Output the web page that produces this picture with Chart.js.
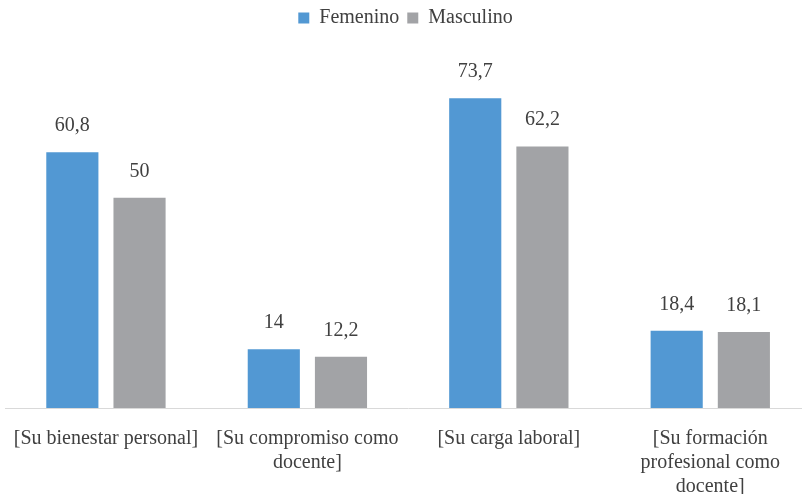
<!DOCTYPE html>
<html>
<head>
<meta charset="utf-8">
<script src="https://cdn.jsdelivr.net/npm/chart.js@4"></script>
<style>
  html, body { margin: 0; padding: 0; background: #fff; overflow: hidden; }
  #wrap { width: 802px; height: 494px; overflow: hidden; }
  #c { display: block; margin-left: -6px; }
</style>
</head>
<body>
<div id="wrap"><canvas id="c" width="817" height="518"></canvas></div>
<script>
const categories = [
  "[Su bienestar personal]",
  ["[Su compromiso como", "docente]"],
  "[Su carga laboral]",
  ["[Su formación", "profesional como", "docente]"]
];
const femenino = [60.8, 14, 73.7, 18.4];
const masculino = [50, 12.2, 62.2, 18.1];

const serif = "'Liberation Serif', 'Times New Roman', serif";
const textColor = "#404040";

// Writes each bar's value above it, with a decimal comma
const valueLabels = {
  id: "valueLabels",
  afterDatasetsDraw(chart) {
    const ctx = chart.ctx;
    ctx.save();
    ctx.font = "20px " + serif;
    ctx.fillStyle = textColor;
    ctx.textAlign = "center";
    ctx.textBaseline = "alphabetic";
    chart.data.datasets.forEach((ds, i) => {
      chart.getDatasetMeta(i).data.forEach((bar, j) => {
        const txt = String(ds.data[j]).replace(".", ",");
        ctx.fillText(txt, bar.x, bar.y - 21);
      });
    });
    ctx.restore();
  }
};

new Chart(document.getElementById("c"), {
  type: "bar",
  data: {
    labels: categories,
    datasets: [
      { label: "Femenino", data: femenino, backgroundColor: "#5298d3" },
      { label: "Masculino", data: masculino, backgroundColor: "#a2a3a6" }
    ]
  },
  options: {
    responsive: false,
    animation: false,
    devicePixelRatio: 1,
    layout: { padding: { left: 6, right: 0, top: 0, bottom: 0 } },
    datasets: {
      bar: { categoryPercentage: 0.667, barPercentage: 0.776 }
    },
    plugins: {
      legend: {
        position: "top",
        labels: {
          font: { family: serif, size: 20 },
          color: textColor,
          boxWidth: 11,
          boxHeight: 11,
          padding: 8
        }
      },
      tooltip: { enabled: false }
    },
    scales: {
      x: {
        grid: { display: false, drawTicks: false },
        border: { display: true, color: "#d9d9d9", width: 1 },
        ticks: {
          font: { family: serif, size: 20, lineHeight: 1.2 },
          color: textColor,
          padding: 19,
          maxRotation: 0,
          autoSkip: false
        }
      },
      y: {
        display: false,
        min: 0,
        max: 88
      }
    }
  },
  plugins: [valueLabels]
});
</script>
</body>
</html>
